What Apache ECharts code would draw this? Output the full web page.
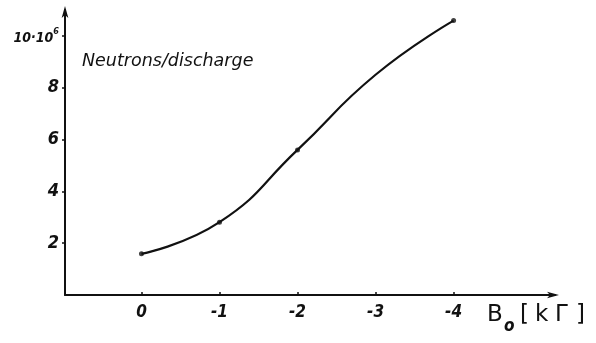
<!DOCTYPE html>
<html>
<head>
<meta charset="utf-8">
<script src="https://cdn.jsdelivr.net/npm/echarts@6/dist/echarts.min.js"></script>
<style>
html,body{margin:0;padding:0;background:#fff;}
#c{width:596px;height:343px;}
</style>
</head>
<body>
<div id="c"></div>
<script>
// Measured (marked) points: B0 [kΓ] vs neutrons/discharge (×10^6)
var markedB = [0, -1, -2, -4];
var markedN = [1.59, 2.81, 5.60, 10.59];
// Points
var curveB = [0, -1, -2, -3, -4];
var curveN = [1.59, 2.81, 5.60, 8.50, 10.59];
// Tick values
var xTicks = [0, -1, -2, -3, -4];
var yTicks = [2, 4, 6, 8, 10];

var FONT = '"DejaVu Sans Condensed","DejaVu Sans",sans-serif';
var FONT2 = '"DejaVu Sans",sans-serif';
var chart = echarts.init(document.getElementById('c'), null, {renderer: 'canvas'});

chart.setOption({
  backgroundColor: '#ffffff',
  animation: false,
  grid: {left: 65, right: 41, top: 10, bottom: 48, containLabel: false},
  xAxis: {
    type: 'value',
    inverse: true,
    min: -5.3,
    max: 0.98,
    splitLine: {show: false},
    axisLine: {show: true, onZero: false, lineStyle: {color: '#111', width: 2},
      symbol: ['none', 'arrow'], symbolSize: [5, 12], symbolOffset: [0, 4]},
    axisTick: {show: true, customValues: xTicks, inside: true, length: 3, lineStyle: {color: '#111', width: 1.5}},
    axisLabel: {show: true, customValues: xTicks, margin: 9, color: '#111',
      fontFamily: FONT, fontStyle: 'italic', fontWeight: 'bold', fontSize: 17,
      formatter: function (v) { return v === 0 ? '0' : '-' + Math.abs(v); }}
  },
  yAxis: {
    type: 'value',
    min: 0,
    max: 11,
    splitLine: {show: false},
    axisLine: {show: true, onZero: false, lineStyle: {color: '#111', width: 2},
      symbol: ['none', 'arrow'], symbolSize: [5, 12], symbolOffset: [0, 4]},
    axisTick: {show: true, customValues: yTicks, length: 3, lineStyle: {color: '#111', width: 1.5}},
    axisLabel: {show: true, customValues: yTicks, margin: 6, color: '#111',
      fontFamily: FONT, fontStyle: 'italic', fontWeight: 'bold', fontSize: 18,
      formatter: function (v) { return v === 10 ? '{s|10\u00b710}{sup|6}' : String(v); },
      rich: {
        s: {fontFamily: FONT, fontStyle: 'italic', fontWeight: 'bold', fontSize: 14, color: '#111', verticalAlign: 'bottom', lineHeight: 18},
        sup: {fontFamily: FONT, fontStyle: 'italic', fontWeight: 'bold', fontSize: 9, color: '#111', verticalAlign: 'top', lineHeight: 18, padding: [0, 0, 8, 0]}
      }}
  },
  title: {
    text: 'Neutrons/discharge',
    left: 77, top: 47,
    textStyle: {fontFamily: FONT2, fontStyle: 'italic', fontWeight: 'normal', fontSize: 17.5, color: '#111'}
  },
  graphic: [
    {type: 'text', left: 487, top: 304, style: {text: 'B', font: 'normal 23px ' + FONT2, fill: '#111'}},
    {type: 'text', left: 504, top: 318, style: {text: 'o', font: 'italic bold 17px ' + FONT, fill: '#111'}},
    {type: 'text', left: 520, top: 304, style: {text: '[', font: 'normal 23px ' + FONT2, fill: '#111'}},
    {type: 'text', left: 535, top: 304, style: {text: 'k', font: 'normal 23px ' + FONT2, fill: '#111'}},
    {type: 'text', left: 555, top: 304, style: {text: '\u0393', font: 'normal 23px ' + FONT2, fill: '#111'}},
    {type: 'text', left: 576, top: 304, style: {text: ']', font: 'normal 23px ' + FONT2, fill: '#111'}}
  ],
  series: [
    {
      type: 'line',
      data: curveB.map(function (b, i) { return [b, curveN[i]]; }),
      smooth: 0.5,
      showSymbol: false,
      lineStyle: {color: '#111', width: 2.2},
      silent: true
    },
    {
      type: 'scatter',
      data: markedB.map(function (b, i) { return [b, markedN[i]]; }),
      symbol: 'circle',
      symbolSize: 5,
      itemStyle: {color: '#111'},
      silent: true
    }
  ]
});
</script>
</body>
</html>
